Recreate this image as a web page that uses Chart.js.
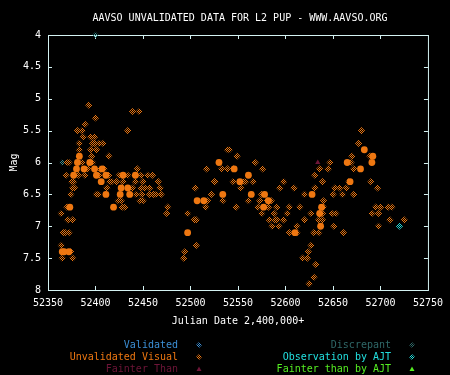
<!DOCTYPE html>
<html>
<head>
<meta charset="utf-8">
<script src="https://cdn.jsdelivr.net/npm/chart.js@4.4.0/dist/chart.umd.min.js"></script>
<style>
  html, body { margin: 0; padding: 0; background: #000; }
</style>
</head>
<body>
<canvas id="lc" width="450" height="375"></canvas>
<script>
// tick values
const xTicks = [52350, 52400, 52450, 52500, 52550, 52600, 52650, 52700, 52750];
const yTicks = [4, 4.5, 5, 5.5, 6, 6.5, 7, 7.5, 8];

// unvalidated visual estimates (single marks)
const visualJD = [
  52393, 52439, 52446, 52400, 52389, 52381, 52386, 52434,
  52387, 52395, 52399, 52383, 52397, 52399, 52404, 52408,
  52383, 52395, 52401, 52539, 52541,
  52396, 52414, 52549,
  52370, 52372, 52386, 52397,
  52392, 52405, 52409, 52444, 52517, 52533, 52539, 52545,
  52369, 52382, 52389, 52404, 52414, 52425, 52434, 52442, 52448, 52455, 52460,
  52375, 52377, 52415, 52417, 52422, 52429, 52442, 52450, 52466, 52525, 52526, 52545,
  52376, 52378, 52412, 52439, 52448, 52452, 52457, 52468, 52505,
  52374, 52401, 52403, 52443, 52449, 52457, 52461, 52464, 52469, 52522,
  52424, 52427, 52447, 52450, 52518, 52534,
  52370, 52428, 52431, 52476, 52516, 52548,
  52364, 52475, 52497,
  52371, 52376, 52504, 52506,
  52366, 52368, 52372,
  52364, 52506,
  52374, 52494,
  52365, 52376, 52493,
  52680, 52677, 52670, 52689,
  52568, 52647, 52669,
  52576, 52636, 52645, 52672,
  52631,
  52556, 52558, 52566, 52598, 52639, 52667, 52690,
  52553, 52594, 52609, 52631, 52652, 52657, 52664, 52697,
  52575, 52620, 52650, 52660, 52672,
  52561, 52573, 52581, 52585, 52640,
  52571, 52582, 52591, 52604, 52615, 52640, 52695, 52700, 52708, 52712,
  52575, 52588, 52602, 52627, 52639, 52649, 52653, 52691, 52698,
  52583, 52589, 52591, 52598, 52620, 52635, 52639, 52710, 52725,
  52586, 52593, 52612, 52651, 52698,
  52604, 52612, 52630, 52635, 52661,
  52627, 52624, 52618, 52623, 52632, 52630, 52625
];
const visualMag = [
  5.1, 5.2, 5.2, 5.3, 5.4, 5.5, 5.5, 5.5,
  5.6, 5.6, 5.6, 5.7, 5.7, 5.7, 5.7, 5.7,
  5.8, 5.8, 5.8, 5.8, 5.8,
  5.9, 5.9, 5.9,
  6.0, 6.0, 6.0, 6.0,
  6.1, 6.1, 6.1, 6.1, 6.1, 6.1, 6.1, 6.1,
  6.2, 6.2, 6.2, 6.2, 6.2, 6.2, 6.2, 6.2, 6.2, 6.2, 6.2,
  6.3, 6.3, 6.3, 6.3, 6.3, 6.3, 6.3, 6.3, 6.3, 6.3, 6.3, 6.3,
  6.4, 6.4, 6.4, 6.4, 6.4, 6.4, 6.4, 6.4, 6.4,
  6.5, 6.5, 6.5, 6.5, 6.5, 6.5, 6.5, 6.5, 6.5, 6.5,
  6.6, 6.6, 6.6, 6.6, 6.6, 6.6,
  6.7, 6.7, 6.7, 6.7, 6.7, 6.7,
  6.8, 6.8, 6.8,
  6.9, 6.9, 6.9, 6.9,
  7.1, 7.1, 7.1,
  7.3, 7.3,
  7.4, 7.4,
  7.5, 7.5, 7.5,
  5.5, 5.7, 5.9, 5.9,
  6.0, 6.0, 6.0,
  6.1, 6.1, 6.1, 6.1,
  6.2,
  6.3, 6.3, 6.3, 6.3, 6.3, 6.3, 6.3,
  6.4, 6.4, 6.4, 6.4, 6.4, 6.4, 6.4, 6.4,
  6.5, 6.5, 6.5, 6.5, 6.5,
  6.6, 6.6, 6.6, 6.6, 6.6,
  6.7, 6.7, 6.7, 6.7, 6.7, 6.7, 6.7, 6.7, 6.7, 6.7,
  6.8, 6.8, 6.8, 6.8, 6.8, 6.8, 6.8, 6.8, 6.8,
  6.9, 6.9, 6.9, 6.9, 6.9, 6.9, 6.9, 6.9, 6.9,
  7.0, 7.0, 7.0, 7.0, 7.0,
  7.1, 7.1, 7.1, 7.1, 7.1,
  7.3, 7.4, 7.5, 7.5, 7.6, 7.8, 7.9
];

// places where several estimates stack up (drawn solid)
const stackedJD = [
  52383, 52381, 52394, 52530,
  52380, 52388, 52399, 52407, 52546,
  52377, 52401, 52411, 52429, 52442,
  52406, 52427, 52434,
  52411, 52426, 52436, 52534,
  52507, 52514, 52373, 52419, 52497,
  52365, 52367, 52372,
  52683, 52692, 52665, 52691, 52679, 52561,
  52552, 52668, 52564, 52578, 52628, 52582,
  52577, 52638, 52636, 52637, 52610
];
const stackedMag = [
  5.9, 6.0, 6.0, 6.0,
  6.1, 6.1, 6.1, 6.1, 6.1,
  6.2, 6.2, 6.2, 6.2, 6.2,
  6.3, 6.4, 6.4,
  6.5, 6.5, 6.5, 6.5,
  6.6, 6.6, 6.7, 6.7, 7.1,
  7.4, 7.4, 7.4,
  5.8, 5.9, 6.0, 6.0, 6.1, 6.2,
  6.3, 6.3, 6.5, 6.5, 6.5, 6.6,
  6.7, 6.7, 6.8, 7.0, 7.1
];

const fainterJD = [52634];
const fainterMag = [6.0];
const discrepantJD = [52400, 52365];
const discrepantMag = [4.0, 6.0];
const ajtJD = [52720];
const ajtMag = [7.0];

const chartTitle = 'AAVSO UNVALIDATED DATA FOR L2 PUP - WWW.AAVSO.ORG';
const xTitle = 'Julian Date 2,400,000+';
const yTitle = 'Mag';

const FONT = '"DejaVu Sans Mono", monospace';
const frameColor = '#d4f2f2';
const orange = '#ee7711';

const canvas = document.getElementById('lc');
const ctx = canvas.getContext('2d');

function dither(color) {
  const c = document.createElement('canvas');
  c.width = 2; c.height = 2;
  const g = c.getContext('2d');
  g.fillStyle = color;
  g.fillRect(0, 0, 1, 1);
  g.fillRect(1, 1, 1, 1);
  return ctx.createPattern(c, 'repeat');
}

function pts(xs, ys) {
  return xs.map((x, i) => ({ x: x, y: ys[i] }));
}

const legendItems = [
  { text: 'Validated', color: '#3b8fd6', col: 0, row: 0, shape: 'diamond' },
  { text: 'Unvalidated Visual', color: orange, col: 0, row: 1, shape: 'diamond' },
  { text: 'Fainter Than', color: '#6e1538', col: 0, row: 2, shape: 'triangle' },
  { text: 'Discrepant', color: '#2f6868', col: 1, row: 0, shape: 'diamond' },
  { text: 'Observation by AJT', color: '#22e0e0', col: 1, row: 1, shape: 'diamond' },
  { text: 'Fainter than by AJT', color: '#55ee22', col: 1, row: 2, shape: 'triangle' }
];

const framePlugin = {
  id: 'frame',
  beforeDatasetsDraw(chart) {
    const { ctx, chartArea: a, scales } = chart;
    ctx.save();
    ctx.strokeStyle = frameColor;
    ctx.lineWidth = 1;
    ctx.strokeRect(a.left + 0.5, a.top + 0.5, a.right - a.left, a.bottom - a.top);
    ctx.beginPath();
    xTicks.slice(1, -1).forEach(v => {
      const px = Math.round(scales.x.getPixelForValue(v)) + 0.5;
      ctx.moveTo(px, a.bottom); ctx.lineTo(px, a.bottom - 4);
      ctx.moveTo(px, a.top); ctx.lineTo(px, a.top + 4);
    });
    yTicks.slice(1, -1).forEach(v => {
      const py = Math.round(scales.y.getPixelForValue(v)) + 0.5;
      ctx.moveTo(a.left, py); ctx.lineTo(a.left + 4, py);
      ctx.moveTo(a.right, py); ctx.lineTo(a.right - 4, py);
    });
    ctx.stroke();
    ctx.restore();
  },
  afterDraw(chart) {
    const { ctx } = chart;
    ctx.save();
    ctx.font = '10px ' + FONT;
    ctx.textBaseline = 'middle';
    ctx.fillStyle = '#ffffff';
    ctx.textAlign = 'center';
    ctx.fillText(chartTitle, 240, 18);

    const textRight = [178, 391];
    const markX = [199, 412];
    const rowY = [345, 357, 369];
    ctx.textAlign = 'right';
    legendItems.forEach(it => {
      const y = rowY[it.row];
      ctx.fillStyle = it.color;
      ctx.fillText(it.text, textRight[it.col], y);
      const mx = markX[it.col];
      ctx.beginPath();
      if (it.shape === 'diamond') {
        ctx.fillStyle = dither(it.color);
        ctx.moveTo(mx, y - 3); ctx.lineTo(mx + 3, y); ctx.lineTo(mx, y + 3); ctx.lineTo(mx - 3, y);
      } else {
        ctx.moveTo(mx, y - 2.5); ctx.lineTo(mx + 2.5, y + 2); ctx.lineTo(mx - 2.5, y + 2);
      }
      ctx.closePath();
      ctx.fill();
    });
    ctx.restore();
  }
};

new Chart(canvas, {
  type: 'scatter',
  data: {
    datasets: [
      {
        label: 'Unvalidated Visual',
        data: pts(visualJD, visualMag),
        pointStyle: 'rectRot',
        pointRadius: 3.6,
        pointBorderWidth: 0,
        pointBackgroundColor: dither(orange)
      },
      {
        label: 'Unvalidated Visual (stacked)',
        data: pts(stackedJD, stackedMag),
        pointStyle: 'circle',
        pointRadius: 3.4,
        pointBorderWidth: 0,
        pointBackgroundColor: orange
      },
      {
        label: 'Fainter Than',
        data: pts(fainterJD, fainterMag),
        pointStyle: 'triangle',
        pointRadius: 3,
        pointBorderWidth: 0,
        pointBackgroundColor: '#6e1538'
      },
      {
        label: 'Discrepant',
        data: pts(discrepantJD, discrepantMag),
        pointStyle: 'rectRot',
        pointRadius: 3.2,
        pointBorderWidth: 0,
        pointBackgroundColor: dither('#3a8c8c')
      },
      {
        label: 'Observation by AJT',
        data: pts(ajtJD, ajtMag),
        pointStyle: 'rectRot',
        pointRadius: 3.6,
        pointBorderWidth: 0,
        pointBackgroundColor: dither('#22e0e0')
      }
    ]
  },
  options: {
    responsive: false,
    animation: false,
    clip: false,
    layout: { padding: { left: 0, right: 18, top: 35, bottom: 45 } },
    plugins: {
      legend: { display: false },
      tooltip: { enabled: false },
      title: { display: false }
    },
    scales: {
      x: {
        type: 'linear',
        min: 52350,
        max: 52750,
        afterBuildTicks: s => { s.ticks = xTicks.map(v => ({ value: v })); },
        afterFit: s => { s.height = 40; },
        grid: { display: false, drawTicks: false },
        border: { display: false },
        ticks: {
          color: '#ffffff',
          font: { family: FONT, size: 10 },
          padding: 7,
          maxRotation: 0,
          autoSkip: false,
          callback: v => String(v)
        },
        title: {
          display: true,
          text: xTitle,
          color: '#ffffff',
          font: { family: FONT, size: 10 },
          padding: { top: 0, bottom: 3 }
        }
      },
      y: {
        reverse: true,
        min: 4,
        max: 8,
        afterBuildTicks: s => { s.ticks = yTicks.map(v => ({ value: v })); },
        afterFit: s => { s.width = 48; },
        grid: { display: false, drawTicks: false },
        border: { display: false },
        ticks: {
          color: '#ffffff',
          font: { family: FONT, size: 10 },
          padding: 7,
          autoSkip: false,
          callback: v => String(v)
        },
        title: {
          display: true,
          text: yTitle,
          color: '#ffffff',
          font: { family: FONT, size: 10 },
          padding: { top: 8, bottom: 0 }
        }
      }
    }
  },
  plugins: [framePlugin]
});
</script>
</body>
</html>
